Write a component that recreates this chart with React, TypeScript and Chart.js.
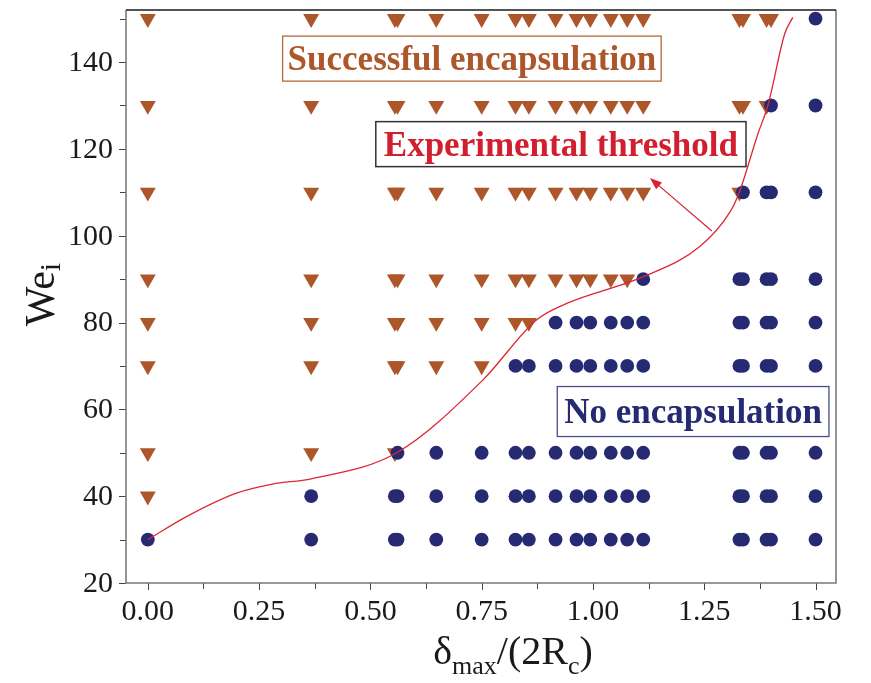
import React, { useEffect, useRef } from "react";
import { Chart, registerables } from "chart.js";

Chart.register(...registerables);

// ---- data ----
const ratioColumns = [0, 0.367, 0.555, 0.561, 0.648, 0.75, 0.826, 0.856, 0.916, 0.963, 0.994, 1.04, 1.077, 1.113, 1.329, 1.337, 1.39, 1.4, 1.5];
const weLevels = [30, 40, 50, 70, 80, 90, 110, 130, 150];
// number of leading columns (in ratioColumns order) that show successful encapsulation at each We level
const successCount = [0, 1, 3, 6, 8, 13, 15, 17, 18];

const thresholdX = [0, 0.087, 0.199, 0.28, 0.367, 0.559, 0.753, 0.873, 0.941, 1.112, 1.24, 1.308, 1.328, 1.371, 1.393, 1.431, 1.449];
const thresholdY = [30, 35.3, 40.7, 42.8, 44, 50, 66.8, 80.6, 84.4, 90.5, 97.5, 105.5, 109.8, 123.6, 130, 146.6, 150.3];

const xTicks = [0, 0.25, 0.5, 0.75, 1.0, 1.25, 1.5];
const xTickLabels = ["0.00", "0.25", "0.50", "0.75", "1.00", "1.25", "1.50"];
const xMinorTicks = [0.125, 0.375, 0.625, 0.875, 1.125, 1.375];
const yTicks = [20, 40, 60, 80, 100, 120, 140];
const yTickLabels = ["20", "40", "60", "80", "100", "120", "140"];
const yMinorTicks = [30, 50, 70, 90, 110, 130, 150];
const xRange = [-0.049, 1.546];
const yRange = [20, 152];

// annotation anchors (data coordinates)
const successLabelAt = [0.728, 140.8];
const thresholdLabelAt = [0.928, 121.1];
const noEncapLabelAt = [1.225, 59.5];
const arrowFrom = [1.267, 101.1];
const arrowTo = [1.128, 113.3];

const BROWN = "#ad5629";
const NAVY = "#262a72";
const SERIF = '"Liberation Serif", "Times New Roman", Times, serif';

function buildPoints(success: boolean) {
  const pts: { x: number; y: number }[] = [];
  weLevels.forEach((we, r) => {
    ratioColumns.forEach((c, i) => {
      const isSuccess = i < successCount[r];
      if (isSuccess === success) pts.push({ x: c, y: we });
    });
  });
  return pts;
}

function drawBox(ctx: CanvasRenderingContext2D, cx: number, cy: number, text: string, color: string, border: string, size: number, h: number, padX: number, bw: number) {
  ctx.font = `bold ${size}px ${SERIF}`;
  const w = ctx.measureText(text).width + padX * 2;
  ctx.fillStyle = "#fff";
  ctx.fillRect(cx - w / 2, cy - h / 2, w, h);
  ctx.strokeStyle = border;
  ctx.lineWidth = bw;
  ctx.strokeRect(cx - w / 2, cy - h / 2, w, h);
  ctx.fillStyle = color;
  ctx.textAlign = "center";
  ctx.textBaseline = "alphabetic";
  ctx.fillText(text, cx, cy + size * 0.33);
}

function drawSegments(ctx: CanvasRenderingContext2D, segs: { t: string; sub: boolean }[], cx: number, base: number, main: number, sub: number, subDrop: number) {
  let total = 0;
  const widths = segs.map((s) => {
    ctx.font = `${s.sub ? sub : main}px ${SERIF}`;
    const w = ctx.measureText(s.t).width;
    total += w;
    return w;
  });
  let x = cx - total / 2;
  ctx.textAlign = "left";
  ctx.textBaseline = "alphabetic";
  segs.forEach((s, i) => {
    ctx.font = `${s.sub ? sub : main}px ${SERIF}`;
    ctx.fillText(s.t, x, base + (s.sub ? subDrop : 0));
    x += widths[i];
  });
}

const decorPlugin = {
  id: "decor",
  afterDraw(chart: any) {
    const { ctx, chartArea: a, scales } = chart;
    const xs = scales.x;
    const ys = scales.y;
    ctx.save();

    // tick marks
    ctx.strokeStyle = "#444";
    ctx.lineWidth = 1;
    const vline = (px: number, y0: number, y1: number) => {
      ctx.beginPath();
      ctx.moveTo(px, y0);
      ctx.lineTo(px, y1);
      ctx.stroke();
    };
    const hline = (py: number, x0: number, x1: number) => {
      ctx.beginPath();
      ctx.moveTo(x0, py);
      ctx.lineTo(x1, py);
      ctx.stroke();
    };
    xTicks.forEach((v) => vline(Math.round(xs.getPixelForValue(v)) + 0.5, a.bottom, a.bottom + 7));
    xMinorTicks.forEach((v) => vline(Math.round(xs.getPixelForValue(v)) + 0.5, a.bottom, a.bottom + 6));
    yTicks.forEach((v) => hline(Math.round(ys.getPixelForValue(v)) + 0.5, a.left - 7, a.left));
    yMinorTicks.forEach((v) => hline(Math.round(ys.getPixelForValue(v)) + 0.5, a.left - 6, a.left));

    // frame
    ctx.lineWidth = 1.6;
    ctx.strokeStyle = "#7a7a7a";
    ctx.beginPath();
    ctx.moveTo(a.left, a.top);
    ctx.lineTo(a.left, a.bottom);
    ctx.lineTo(a.right, a.bottom);
    ctx.lineTo(a.right, a.top);
    ctx.stroke();
    ctx.strokeStyle = "#1a1a1a";
    ctx.beginPath();
    ctx.moveTo(a.left, a.top);
    ctx.lineTo(a.right, a.top);
    ctx.stroke();

    // tick labels
    ctx.fillStyle = "#1a1a1a";
    ctx.font = `30px ${SERIF}`;
    ctx.textAlign = "center";
    ctx.textBaseline = "top";
    xTicks.forEach((v, i) => ctx.fillText(xTickLabels[i], xs.getPixelForValue(v), a.bottom + 14));
    ctx.textAlign = "right";
    ctx.textBaseline = "middle";
    yTicks.forEach((v, i) => ctx.fillText(yTickLabels[i], a.left - 13, ys.getPixelForValue(v) + 1));

    // x title: δmax/(2Rc)
    drawSegments(
      ctx,
      [
        { t: "δ", sub: false },
        { t: "max", sub: true },
        { t: "/(2R", sub: false },
        { t: "c", sub: true },
        { t: ")", sub: false },
      ],
      (a.left + a.right) / 2 + 32,
      664,
      40,
      26,
      10
    );

    // y title: Wei (rotated)
    ctx.save();
    ctx.translate(54, (a.top + a.bottom) / 2 - 2);
    ctx.rotate(-Math.PI / 2);
    drawSegments(
      ctx,
      [
        { t: "We", sub: false },
        { t: "i", sub: true },
      ],
      0,
      0,
      42,
      30,
      6
    );
    ctx.restore();

    // annotation boxes
    drawBox(ctx, xs.getPixelForValue(successLabelAt[0]), ys.getPixelForValue(successLabelAt[1]), "Successful encapsulation", BROWN, "#b8673c", 35, 45, 5, 1.3);
    drawBox(ctx, xs.getPixelForValue(thresholdLabelAt[0]), ys.getPixelForValue(thresholdLabelAt[1]), "Experimental threshold", "#d21f2f", "#333", 35, 45, 8, 1.5);
    drawBox(ctx, xs.getPixelForValue(noEncapLabelAt[0]), ys.getPixelForValue(noEncapLabelAt[1]), "No encapsulation", NAVY, "#4a4d8a", 35, 50, 7, 1.3);

    // arrow
    const x0 = xs.getPixelForValue(arrowFrom[0]);
    const y0 = ys.getPixelForValue(arrowFrom[1]);
    const x1 = xs.getPixelForValue(arrowTo[0]);
    const y1 = ys.getPixelForValue(arrowTo[1]);
    const ang = Math.atan2(y1 - y0, x1 - x0);
    ctx.strokeStyle = "#d8222f";
    ctx.fillStyle = "#d8222f";
    ctx.lineWidth = 1.2;
    ctx.beginPath();
    ctx.moveTo(x0, y0);
    ctx.lineTo(x1 - Math.cos(ang) * 6, y1 - Math.sin(ang) * 6);
    ctx.stroke();
    const L = 12;
    const W = 4.5;
    ctx.beginPath();
    ctx.moveTo(x1, y1);
    ctx.lineTo(x1 - L * Math.cos(ang) + W * Math.sin(ang), y1 - L * Math.sin(ang) - W * Math.cos(ang));
    ctx.lineTo(x1 - L * Math.cos(ang) - W * Math.sin(ang), y1 - L * Math.sin(ang) + W * Math.cos(ang));
    ctx.closePath();
    ctx.fill();

    ctx.restore();
  },
};

export default function App() {
  const ref = useRef<HTMLCanvasElement | null>(null);

  useEffect(() => {
    if (!ref.current) return;
    const chart = new Chart(ref.current, {
      type: "scatter",
      data: {
        datasets: [
          {
            type: "line",
            label: "Experimental threshold",
            data: thresholdX.map((x, i) => ({ x, y: thresholdY[i] })),
            borderColor: "#dc2832",
            borderWidth: 1.3,
            pointRadius: 0,
            cubicInterpolationMode: "monotone",
            fill: false,
          } as any,
          {
            label: "No encapsulation",
            data: buildPoints(false),
            pointStyle: "circle",
            pointRadius: 6.9,
            pointBackgroundColor: NAVY,
            pointBorderWidth: 0,
            borderWidth: 0,
          },
          {
            label: "Successful encapsulation",
            data: buildPoints(true),
            pointStyle: "triangle",
            rotation: 180,
            pointRadius: 9.2,
            pointBackgroundColor: BROWN,
            pointBorderWidth: 0,
            borderWidth: 0,
          } as any,
        ],
      },
      options: {
        responsive: false,
        animation: false,
        layout: { padding: { left: 126, right: 35, top: 10, bottom: 100 } },
        plugins: { legend: { display: false }, tooltip: { enabled: false } },
        scales: {
          x: { type: "linear", display: false, min: xRange[0], max: xRange[1] },
          y: { type: "linear", display: false, min: yRange[0], max: yRange[1] },
        },
      },
      plugins: [decorPlugin],
    });
    return () => chart.destroy();
  }, []);

  return (
    <div style={{ position: "absolute", left: 0, top: 0, width: 871, height: 683, background: "#fff" }}>
      <canvas ref={ref} width={871} height={683} style={{ display: "block" }} />
    </div>
  );
}
